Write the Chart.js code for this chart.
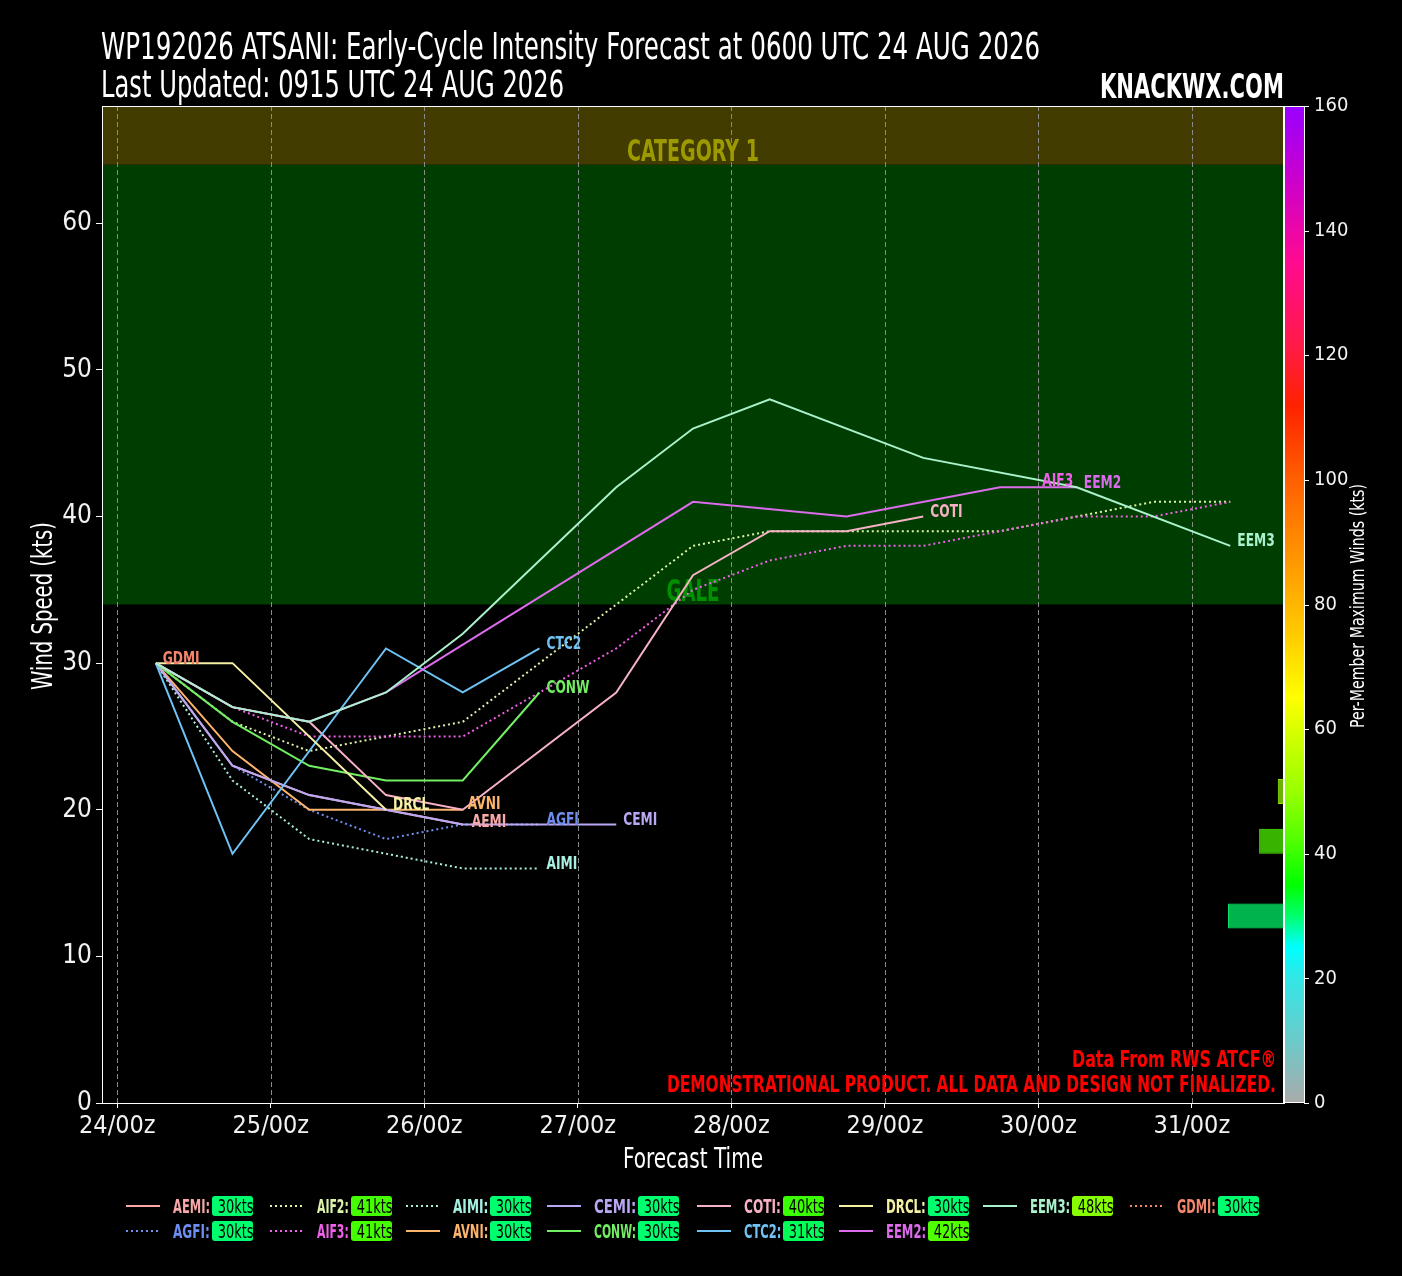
<!DOCTYPE html>
<html>
<head>
<meta charset="utf-8">
<script src="https://cdn.jsdelivr.net/npm/chart.js@4.4.1/dist/chart.umd.min.js"></script>
<style>
  html, body { margin: 0; padding: 0; background: #000; }
  #wrap { position: relative; width: 1402px; height: 1276px; overflow: hidden;
          font-family: "Liberation Sans Narrow", "DejaVu Sans Condensed", "Roboto Condensed", sans-serif; color: #fff; }
  #box { position: absolute; left: 0; top: 0; width: 1402px; height: 1276px; }
  .txt { position: absolute; white-space: nowrap; line-height: 1; }
  .lgline { position: absolute; width: 34px; height: 2px; }
  .lgval { position: absolute; height: 20px; border-radius: 3px; color: #000; font-size: 19px;
           line-height: 20px; text-align: center; overflow: hidden; }
  .lgval span { display: inline-block; transform: scaleX(0.76); }
</style>
</head>
<body>
<div id="wrap">
  <div id="box"><canvas id="chart"></canvas></div>
  <div class="txt" id="t1" style="font-size:37px">WP192026 ATSANI: Early-Cycle Intensity Forecast at 0600 UTC 24 AUG 2026</div>
  <div class="txt" id="t2" style="font-size:37px">Last Updated: 0915 UTC 24 AUG 2026</div>
  <div class="txt" id="brand" style="font-size:34px;font-weight:bold">KNACKWX.COM</div>
  <div class="txt" id="src" style="font-size:23px;font-weight:bold;color:#ff0000">Data From RWS ATCF®</div>
  <div class="txt" id="demo" style="font-size:23px;font-weight:bold;color:#ff0000">DEMONSTRATIONAL PRODUCT. ALL DATA AND DESIGN NOT FINALIZED.</div>
  <div id="legend"></div>
</div>
<script>
// forecast hours since 24/00z
const HOURS = [6, 18, 30, 42, 54, 66, 78, 90, 102, 114, 126, 138, 150, 162, 174];
const X_TICK_HOURS = [0, 24, 48, 72, 96, 120, 144, 168];
const X_TICK_LABELS = ['24/00z', '25/00z', '26/00z', '27/00z', '28/00z', '29/00z', '30/00z', '31/00z'];
const Y_TICKS = [0, 10, 20, 30, 40, 50, 60];
const CB_TICKS = [0, 20, 40, 60, 80, 100, 120, 140, 160];

const MODELS = ['AEMI', 'AGFI', 'AIF2', 'AIF3', 'AIMI', 'AVNI', 'CEMI', 'CONW', 'COTI', 'CTC2', 'DRCL', 'EEM2', 'EEM3', 'GDMI'];
const AEMI = [30, 23, 21, 20, 19];
const AGFI = [30, 23, 20, 18, 19, 19];
const AIF2 = [30, 26, 24, 25, 26, 30, 34, 38, 39, 39, 39, 39, 40, 41, 41];
const AIF3 = [30, 27, 25, 25, 25, 28, 31, 35, 37, 38, 38, 39, 40, 40, 41];
const AIMI = [30, 22, 18, 17, 16, 16];
const AVNI = [30, 24, 20, 20, 20];
const CEMI = [30, 23, 21, 20, 19, 19, 19];
const CONW = [30, 26, 23, 22, 22, 28];
const COTI = [30, 27, 26, 21, 20, null, 28, 36, 39, 39, 40];
const CTC2 = [30, 17, null, 31, 28, 31];
const DRCL = [30, 30, null, 20];
const EEM2 = [30, 27, 26, 28, null, null, null, 41, null, 40, null, 42, 42];
const EEM3 = [30, 27, 26, 28, 32, null, 42, 46, 48, null, 44, null, 42, null, 38];
const GDMI = [30];
const SERIES = { AEMI, AGFI, AIF2, AIF3, AIMI, AVNI, CEMI, CONW, COTI, CTC2, DRCL, EEM2, EEM3, GDMI };

// threshold bands (kts)
const BAND_GALE = [34, 64];
const BAND_CAT1 = [64, 68];
const HIST_BIN = 4;

// ---- styles ----
const FONT = '"Liberation Sans Narrow", "DejaVu Sans Condensed", "Roboto Condensed", sans-serif';
const STYLE = {
  AEMI: { color: '#f7a8a8', dotted: false },
  AGFI: { color: '#6f8ff0', dotted: true },
  AIF2: { color: '#ddf5a8', dotted: true },
  AIF3: { color: '#f060e8', dotted: true },
  AIMI: { color: '#a8f0e2', dotted: true },
  AVNI: { color: '#fdb46c', dotted: false },
  CEMI: { color: '#bba8f4', dotted: false },
  CONW: { color: '#72ee62', dotted: false },
  COTI: { color: '#f6b2c4', dotted: false },
  CTC2: { color: '#6ec3f4', dotted: false },
  DRCL: { color: '#f6f0a4', dotted: false },
  EEM2: { color: '#dc6cec', dotted: false },
  EEM3: { color: '#aaf2cc', dotted: false },
  GDMI: { color: '#f4866e', dotted: true }
};
// end-of-line label offsets in px (null = no label)
const LABEL_OFF = { AIF2: null, AIF3: [-188, -20], AVNI: [5, -5], AEMI: [9, -2] };

const CMAP = [[0, '#aaaaaa'], [10, '#6ccaca'], [20, '#33e6e6'], [25, '#00ffff'], [30, '#00ff6e'], [35, '#00ff00'],
  [42, '#50ff00'], [50, '#99ff00'], [58, '#ccff00'], [65, '#ffff00'], [75, '#ffcc00'], [85, '#ffa000'],
  [100, '#ff6000'], [112, '#ff2200'], [122, '#ff1a4a'], [135, '#ff0a90'], [148, '#cc00cc'], [160, '#9900ff']];

function hexRgb(h) { return [1, 3, 5].map(i => parseInt(h.substr(i, 2), 16)); }
function cmap(v, a) {
  let i = 0;
  while (i < CMAP.length - 2 && v > CMAP[i + 1][0]) i++;
  const [v0, c0] = CMAP[i], [v1, c1] = CMAP[i + 1];
  const t = Math.max(0, Math.min(1, (v - v0) / (v1 - v0)));
  const p = hexRgb(c0), q = hexRgb(c1);
  const rgb = p.map((x, k) => Math.round(x + (q[k] - x) * t));
  return `rgba(${rgb[0]},${rgb[1]},${rgb[2]},${a == null ? 1 : a})`;
}

const maxOf = m => Math.max(...SERIES[m].filter(v => v != null));

// histogram of per-member maximum winds
const binCounts = {};
MODELS.forEach(m => {
  const b = Math.floor(maxOf(m) / HIST_BIN) * HIST_BIN;
  binCounts[b] = (binCounts[b] || 0) + 1;
});
const histData = Object.keys(binCounts).map(b => ({ y: +b + HIST_BIN / 2, x: binCounts[b] }));

const datasets = MODELS.map((m, i) => ({
  label: m,
  data: SERIES[m].map((v, k) => ({ x: HOURS[k], y: v })),
  borderColor: STYLE[m].color,
  borderWidth: 2,
  borderDash: STYLE[m].dotted ? [2, 3] : [],
  pointRadius: 0,
  spanGaps: true,
  tension: 0,
  order: MODELS.length - i,
  xAxisID: 'x',
  yAxisID: 'y'
}));
datasets.push({
  type: 'bar',
  label: 'hist',
  indexAxis: 'y',
  xAxisID: 'hx',
  yAxisID: 'cb',
  data: histData,
  grouped: false,
  maxBarThickness: 25,
  backgroundColor: histData.map(d => cmap(d.y, 0.7)),
  borderColor: histData.map(d => cmap(d.y, 0.9)),
  borderWidth: 1,
  order: 100
});

function fitText(ctx, text, x, y, width, align) {
  const w = ctx.measureText(text).width;
  ctx.save();
  ctx.translate(x, y);
  ctx.scale(width / w, 1);
  ctx.textAlign = align;
  ctx.fillText(text, 0, 0);
  ctx.restore();
}

const decor = {
  id: 'decor',
  beforeDraw(chart) {
    const { ctx, chartArea: a, scales: { y } } = chart;
    ctx.save();
    const bands = [[BAND_GALE, '#003d00'], [BAND_CAT1, '#423c00']];
    bands.forEach(([b, c]) => {
      const t = y.getPixelForValue(b[1]), btm = y.getPixelForValue(b[0]);
      ctx.fillStyle = c;
      ctx.fillRect(a.left, t, a.right - a.left, btm - t);
    });
    const cx = (a.left + a.right) / 2;
    ctx.font = 'bold 30px ' + FONT;
    ctx.textBaseline = 'alphabetic';
    ctx.fillStyle = '#9c9a00';
    fitText(ctx, 'CATEGORY 1', cx, y.getPixelForValue(BAND_CAT1[0]) - 4, 132, 'center');
    ctx.fillStyle = '#009000';
    fitText(ctx, 'GALE', cx, y.getPixelForValue(BAND_GALE[0]) - 4, 53, 'center');
    ctx.restore();
  },
  beforeDatasetsDraw(chart) {
    const { ctx, chartArea: a, scales: { x } } = chart;
    ctx.save();
    ctx.strokeStyle = '#8a8a8a';
    ctx.lineWidth = 1;
    ctx.setLineDash([5, 3]);
    X_TICK_HOURS.forEach(h => {
      const px = Math.round(x.getPixelForValue(h)) + 0.5;
      ctx.beginPath(); ctx.moveTo(px, a.top); ctx.lineTo(px, a.bottom); ctx.stroke();
    });
    ctx.restore();
  },
  afterDatasetsDraw(chart) {
    const { ctx } = chart;
    ctx.save();
    ctx.font = 'bold 17px ' + FONT;
    ctx.textBaseline = 'middle';
    MODELS.forEach((m, i) => {
      if (LABEL_OFF[m] === null) return;
      const off = LABEL_OFF[m] || [7, -4];
      const meta = chart.getDatasetMeta(i);
      let k = SERIES[m].length - 1;
      while (SERIES[m][k] == null) k--;
      const p = meta.data[k];
      ctx.fillStyle = STYLE[m].color;
      const w = ctx.measureText(m).width * 0.8;
      fitText(ctx, m, p.x + off[0], p.y + off[1], w, 'left');
    });
    ctx.restore();
  },
  afterDraw(chart) {
    const { ctx, chartArea: a, scales: { cb } } = chart;
    ctx.save();
    // frame
    ctx.strokeStyle = '#fff';
    ctx.lineWidth = 1;
    ctx.strokeRect(a.left + 0.5, a.top + 0.5, a.right - a.left - 1, a.bottom - a.top);
    // colorbar
    const x0 = a.right, wBar = 20;
    const top = cb.getPixelForValue(160), bot = cb.getPixelForValue(0);
    const g = ctx.createLinearGradient(0, bot, 0, top);
    CMAP.forEach(([v, c]) => g.addColorStop(v / 160, c));
    ctx.fillStyle = g;
    ctx.fillRect(x0, top, wBar, bot - top);
    ctx.strokeRect(x0 + 0.5, top + 0.5, wBar, bot - top - 1);
    CB_TICKS.forEach(v => {
      const py = Math.round(cb.getPixelForValue(v)) + 0.5;
      ctx.beginPath(); ctx.moveTo(x0 + wBar, py); ctx.lineTo(x0 + wBar + 5, py); ctx.stroke();
    });
    // axis titles
    ctx.fillStyle = '#fff';
    ctx.textBaseline = 'alphabetic';
    ctx.font = '28px ' + FONT;
    fitText(ctx, 'Forecast Time', (a.left + a.right) / 2, 1168, 140, 'center');
    ctx.save();
    ctx.translate(52, 606);
    ctx.rotate(-Math.PI / 2);
    ctx.font = '29px ' + FONT;
    fitText(ctx, 'Wind Speed (kts)', 0, 0, 168, 'center');
    ctx.restore();
    ctx.save();
    ctx.translate(1364, 606);
    ctx.rotate(-Math.PI / 2);
    ctx.font = '20px ' + FONT;
    fitText(ctx, 'Per-Member Maximum Winds (kts)', 0, 0, 244, 'center');
    ctx.restore();
    ctx.restore();
  }
};

new Chart(document.getElementById('chart'), {
  type: 'line',
  data: { datasets },
  options: {
    responsive: true,
    maintainAspectRatio: false,
    animation: false,
    layout: { padding: { top: 106, left: 0, right: 0, bottom: 0 } },
    plugins: { legend: { display: false }, tooltip: { enabled: false } },
    scales: {
      x: {
        type: 'linear', position: 'bottom', min: -2.4, max: 182.4,
        afterFit: s => { s.height = 173; },
        afterBuildTicks: s => { s.ticks = X_TICK_HOURS.map(v => ({ value: v })); },
        ticks: { color: '#f2f2f2', font: { family: FONT, size: 25 }, padding: 3, maxRotation: 0, autoSkip: false,
                 callback: (v, i) => X_TICK_LABELS[i] },
        grid: { drawOnChartArea: false, tickLength: 5, tickColor: '#fff', color: '#fff' },
        border: { color: '#fff', width: 1 }
      },
      y: {
        type: 'linear', position: 'left', min: 0, max: 68,
        afterFit: s => { s.width = 102; },
        afterBuildTicks: s => { s.ticks = Y_TICKS.map(v => ({ value: v })); },
        ticks: { color: '#f2f2f2', font: { family: FONT, size: 26 }, padding: 4 },
        grid: { drawOnChartArea: false, tickLength: 6, tickColor: '#fff', color: '#fff' },
        border: { color: '#fff', width: 1 }
      },
      cb: {
        type: 'linear', position: 'right', min: 0, max: 160, offset: false,
        afterFit: s => { s.width = 118; },
        afterBuildTicks: s => { s.ticks = CB_TICKS.map(v => ({ value: v })); },
        ticks: { color: '#f2f2f2', font: { family: FONT, size: 20 }, padding: 30 },
        grid: { display: false, drawTicks: false, offset: false },
        border: { display: false }
      },
      hx: { type: 'linear', display: false, min: 0, max: 190, reverse: true }
    }
  },
  plugins: [decor]
});

// ---- html text placement ----
function placeText(el, x, baseline, width, align) {
  const probe = document.createElement('span');
  probe.style.cssText = 'display:inline-block;width:0;height:0;';
  el.appendChild(probe);
  const base = probe.offsetTop;
  const nat = el.offsetWidth;
  el.style.top = (baseline - base) + 'px';
  if (align === 'right') { el.style.left = (x - nat) + 'px'; el.style.transformOrigin = 'right top'; }
  else { el.style.left = x + 'px'; el.style.transformOrigin = 'left top'; }
  if (width) el.style.transform = `scaleX(${width / nat})`;
}
placeText(document.getElementById('t1'), 101, 59, 939, 'left');
placeText(document.getElementById('t2'), 101, 97, 463, 'left');
placeText(document.getElementById('brand'), 1284, 98, 184, 'right');
placeText(document.getElementById('src'), 1276, 1067, 204, 'right');
placeText(document.getElementById('demo'), 1276, 1092, 609, 'right');

// ---- legend (8 columns, filled column by column) ----
const LEG_NCOL = 8;
const LEG_LINE_X = [126, 270, 406, 547, 697, 839, 983, 1130];
const LEG_BOX_X = [212, 351, 490, 638, 783, 928, 1072, 1218];
const LEG_ROW_Y = [1206, 1231];
const legend = document.getElementById('legend');
const nLarge = MODELS.length % LEG_NCOL, baseRows = Math.floor(MODELS.length / LEG_NCOL);
const slots = [];
for (let c = 0; c < LEG_NCOL; c++) {
  const rows = baseRows + (c < nLarge ? 1 : 0);
  for (let r = 0; r < rows; r++) slots.push([c, r]);
}
MODELS.forEach((m, i) => {
  const [col, row] = slots[i], yc = LEG_ROW_Y[row];
  const c = STYLE[m].color;
  const ln = document.createElement('div');
  ln.className = 'lgline';
  ln.style.left = LEG_LINE_X[col] + 'px';
  ln.style.top = (yc - 1) + 'px';
  ln.style.background = STYLE[m].dotted
    ? `repeating-linear-gradient(90deg, ${c} 0 2px, transparent 2px 5px)` : c;
  legend.appendChild(ln);
  const nm = document.createElement('div');
  nm.className = 'txt';
  nm.style.cssText += `font-size:20px;font-weight:bold;color:${c}`;
  nm.textContent = m + ':';
  legend.appendChild(nm);
  const nameX = LEG_LINE_X[col] + 47;
  const nw = Math.min(nm.offsetWidth * 0.74, LEG_BOX_X[col] - nameX - 2);
  placeText(nm, nameX, yc + 7, nw, 'left');
  const bx = document.createElement('div');
  bx.className = 'lgval';
  const mx = maxOf(m);
  bx.style.left = LEG_BOX_X[col] + 'px';
  bx.style.top = (yc - 10) + 'px';
  bx.style.width = '41px';
  bx.style.background = cmap(mx);
  bx.innerHTML = `<span>${mx}kts</span>`;
  legend.appendChild(bx);
});
</script>
</body>
</html>
